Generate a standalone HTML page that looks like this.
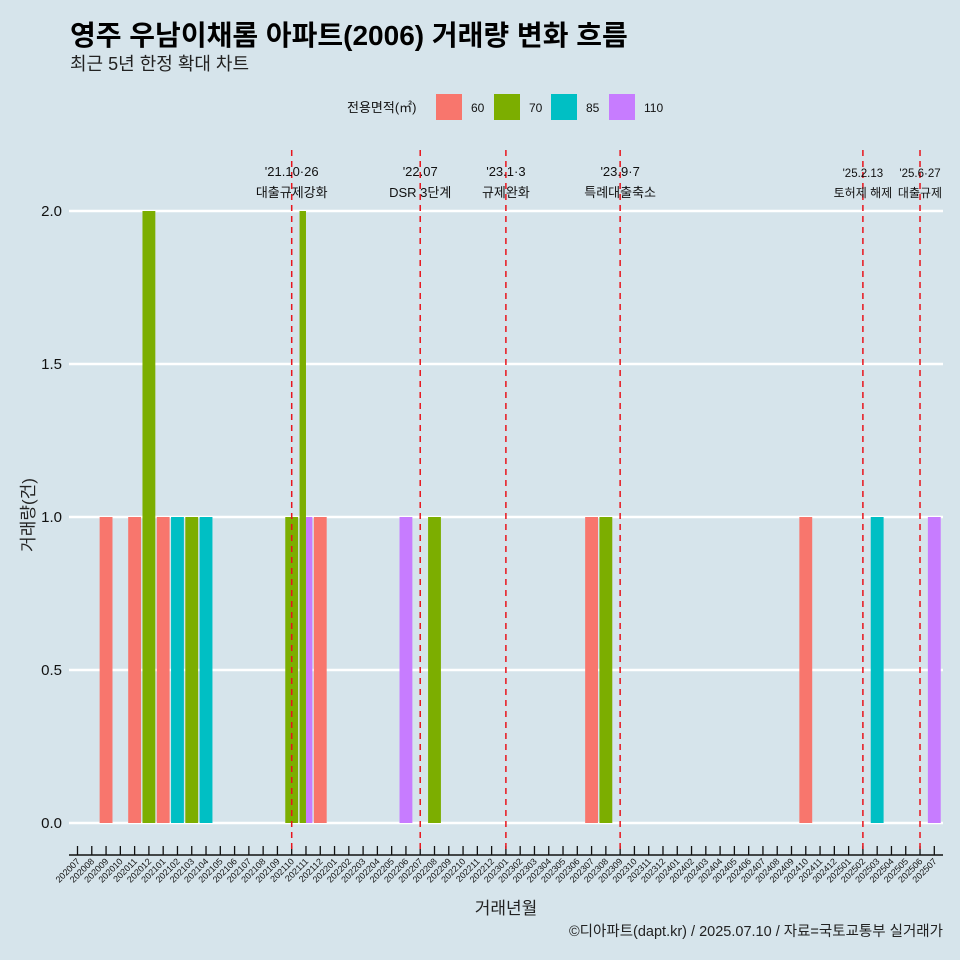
<!DOCTYPE html>
<html><head><meta charset="utf-8">
<style>
html,body{margin:0;padding:0;background:#d6e4eb;}
svg{display:block;font-family:"Liberation Sans","Noto Sans CJK KR",sans-serif;}
</style></head>
<body>
<svg id="chart" width="960" height="960" viewBox="0 0 960 960">
<rect x="0" y="0" width="960" height="960" fill="#d6e4eb"/>
<text x="70" y="45" font-size="28" font-weight="bold" fill="#000">영주 우남이채롬 아파트(2006) 거래량 변화 흐름</text>
<text x="70" y="70" font-size="18" fill="#222">최근 5년 한정 확대 차트</text>
<g>
<text x="347" y="112" font-size="13" fill="#111">전용면적(㎡)</text>
<rect x="436" y="94" width="26" height="26" fill="#F8766D"/>
<text x="471" y="112" font-size="12" fill="#111">60</text>
<rect x="494" y="94" width="26" height="26" fill="#7CAE00"/>
<text x="529" y="112" font-size="12" fill="#111">70</text>
<rect x="551" y="94" width="26" height="26" fill="#00BFC4"/>
<text x="586" y="112" font-size="12" fill="#111">85</text>
<rect x="609" y="94" width="26" height="26" fill="#C77CFF"/>
<text x="644" y="112" font-size="12" fill="#111">110</text>
</g>
<g id="grid"></g>
<g id="bars"></g>
<g id="xaxis"></g>
<g id="vlines"></g>
<text transform="translate(34,515) rotate(-90)" text-anchor="middle" font-size="17" fill="#222">거래량(건)</text>
<text x="506" y="914" text-anchor="middle" font-size="17" fill="#222">거래년월</text>
<text x="943" y="936" text-anchor="end" font-size="14.5" fill="#222">©디아파트(dapt.kr) / 2025.07.10 / 자료=국토교통부 실거래가</text>
</svg>
<script>
const areas = ["60","70","85","110"];
const areaColors = ["#F8766D","#7CAE00","#00BFC4","#C77CFF"];
const txMonth = ["202009","202011","202012","202101","202102","202103","202104","202110","202111","202111","202112","202206","202208","202307","202308","202410","202503","202507"];
const txArea  = ["60","60","70","60","85","70","85","70","70","110","60","110","70","60","70","60","85","110"];
const txCount = [1,1,2,1,1,1,1,1,2,1,1,1,1,1,1,1,1,1];
const yTicks = [0,0.5,1,1.5,2];
const yTickLabels = ["0.0","0.5","1.0","1.5","2.0"];
const eventMonths = ["202110","202207","202301","202309","202502","202506"];
const eventLine1 = ["'21.10·26","'22.07","'23.1·3","'23.9·7","'25.2.13","'25.6·27"];
const eventLine2 = ["대출규제강화","DSR 3단계","규제완화","특례대출축소","토허제 해제","대출규제"];

const months = [];
for (let y = 2020; y <= 2025; y++) for (let m = 1; m <= 12; m++) {
  const k = y * 100 + m;
  if (k >= 202007 && k <= 202507) months.push(String(k));
}
const NS = "http://www.w3.org/2000/svg";
const X0 = 77.5, STEP = 14.28, Y0 = 823, YU = 306;
const PL = 69, PR = 943;
function xs(mo){ return X0 + months.indexOf(mo) * STEP; }
function ys(v){ return Y0 - v * YU; }
function mk(tag, attrs, parent){ const e = document.createElementNS(NS, tag); for (const k in attrs) e.setAttribute(k, attrs[k]); parent.appendChild(e); return e; }

const grid = document.getElementById("grid");
yTicks.forEach((t, i) => {
  const l = mk("line", {x1:PL, x2:PR, y1:ys(t), y2:ys(t), stroke:"#fff", "stroke-width":2.5}, grid);
  
  
  const tx = mk("text", {x:62, y:ys(t)+5, "text-anchor":"end", "font-size":15, fill:"#111"}, grid);
  tx.textContent = yTickLabels[i];
  
  
});

const bars = document.getElementById("bars");
const BW = STEP * 0.9;
months.forEach(mo => {
  const idx = [];
  txMonth.forEach((m, i) => { if (m === mo) idx.push(i); });
  idx.sort((a, b) => areas.indexOf(txArea[a]) - areas.indexOf(txArea[b]));
  const w = BW / Math.max(idx.length, 1);
  idx.forEach((i, j) => {
    const x = xs(mo) - BW / 2 + j * w;
    const r = mk("rect", {x:x, y:ys(txCount[i]), width:w, height:ys(0) - ys(txCount[i]), fill:areaColors[areas.indexOf(txArea[i])]}, bars);
    
    
  });
});

const xa = document.getElementById("xaxis");
const axl = mk("line", {x1:PL, x2:PR, y1:855, y2:855, stroke:"#111", "stroke-width":1.5}, xa);


months.forEach(mo => {
  const x = xs(mo);
  const t = mk("line", {x1:x, x2:x, y1:846, y2:855, stroke:"#111", "stroke-width":1.3}, xa);
  
  
  const tx = mk("text", {transform:"translate(" + (x + 3) + ",862) rotate(-45)", "text-anchor":"end", "font-size":9, fill:"#111"}, xa);
  tx.textContent = mo;
  
  
});

const vl = document.getElementById("vlines");
eventMonths.forEach((mo, i) => {
  const x = xs(mo);
  const l = mk("line", {x1:x, x2:x, y1:150, y2:852, stroke:"#e8141c", "stroke-width":1.5, "stroke-dasharray":"6,5"}, vl);
  
  
  const small = i >= 4;
  const t1 = mk("text", {x:x, y:small ? 177 : 176, "text-anchor":"middle", "font-size":small ? 11.5 : 13, fill:"#111"}, vl);
  t1.textContent = eventLine1[i];
  
  
  const t2 = mk("text", {x:x, y:197, "text-anchor":"middle", "font-size":small ? 12 : 13, fill:"#111"}, vl);
  t2.textContent = eventLine2[i];
  
  
});
</script>
</body></html>
